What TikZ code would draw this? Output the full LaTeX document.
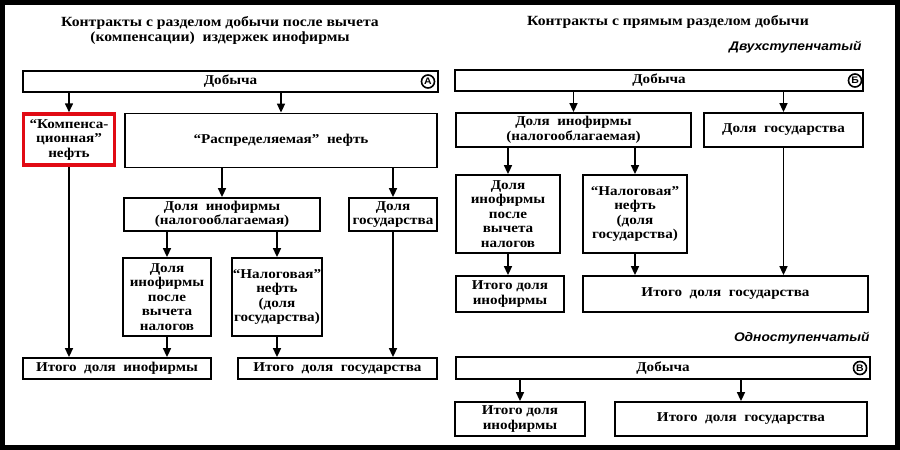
\documentclass[tikz,border=0pt]{standalone}
\usepackage{fontspec}
\setmainfont{Liberation Serif}[FakeStretch=1.12]
\newfontfamily\italsans{Liberation Sans}[FakeStretch=1.1]
\usetikzlibrary{arrows.meta,positioning,calc}
\definecolor{myred}{RGB}{225,10,20}

\begin{document}
\begin{tikzpicture}[
  x=1pt, y=-1pt,
  mybox/.style={
    draw,
    line width=1.8pt,
    inner sep=1pt,
    align=center,
    font=\bfseries\fontsize{13.5}{14.5}\selectfont
    },
  myarr/.style={
    line width=1.6pt,
    -{Triangle[length=9pt,width=8pt]}
    },
  mymark/.style={
    draw,
    circle,
    line width=1.6pt,
    inner sep=0pt,
    minimum size=13pt,
    font=\italsans\bfseries\fontsize{9.5}{9.5}\selectfont
    },
  mytitle/.style={align=center, font=\bfseries\fontsize{14}{15}\selectfont},
  mykind/.style={anchor=east, font=\italsans\bfseries\itshape\fontsize{12.5}{12.5}\selectfont}
]
\useasboundingbox (0,0) rectangle (900,450);
\fill[black] (0,0) rectangle (900,450);
\fill[white] (5,5) rectangle (895,445);

% left: contracts with cost recovery
\node[mytitle] (titleA) at (220,30) {Контракты с разделом добычи после вычета\\(компенсации)\ \ издержек инофирмы};

\node[mybox, minimum width=415pt, minimum height=21pt] (dobA) at (230.5,81.5) {Добыча};
\node[mymark] (markA) at (428,81.5) {А};
\node[mybox, draw=myred, line width=3.5pt, minimum width=91pt, minimum height=51pt] (komp) at (69,139.5) {“Компенса-\\ционная”\\нефть};
\node[mybox, minimum width=312pt, minimum height=54pt] (rasp) at (281,140.5) {“Распределяемая”\ \ нефть};
\node[mybox, minimum width=196pt, minimum height=33pt] (dinA) at (222,214.5) {Доля\ \ инофирмы\\(налогооблагаемая)};
\node[mybox, minimum width=88pt, minimum height=33pt] (dgosA) at (393,214.5) {Доля\\государства};
\node[mybox, minimum width=88pt, minimum height=78pt] (posleA) at (167,297) {Доля\\инофирмы\\после\\вычета\\налогов};
\node[mybox, minimum width=84pt, minimum height=78pt] (nalA) at (277,297) {“Налоговая”\\нефть\\(доля\\государства)};
\node[mybox, minimum width=188pt, minimum height=21pt] (itinA) at (117,368.5) {Итого\ \ доля\ \ инофирмы};
\node[mybox, minimum width=199pt, minimum height=21pt] (itgosA) at (337.5,368.5) {Итого\ \ доля\ \ государства};

% right: direct production sharing
\node[mytitle] (titleB) at (668,22) {Контракты с прямым разделом добычи};
\node[mykind] (twostep) at (865,47) {Двухступенчатый};

\node[mybox, minimum width=408pt, minimum height=21pt] (dobB) at (659,80.5) {Добыча};
\node[mymark] (markB) at (855,80.5) {Б};
\node[mybox, minimum width=235pt, minimum height=34pt] (dinB) at (573.5,130) {Доля\ \ инофирмы\\(налогооблагаемая)};
\node[mybox, minimum width=159pt, minimum height=34pt] (dgosB) at (783.5,130) {Доля\ \ государства};
\node[mybox, minimum width=104pt, minimum height=78pt] (posleB) at (508,214) {Доля\\инофирмы\\после\\вычета\\налогов};
\node[mybox, minimum width=104pt, minimum height=78pt] (nalB) at (635,214) {“Налоговая”\\нефть\\(доля\\государства)};
\node[mybox, minimum width=108pt, minimum height=36pt] (itinB) at (510,294) {Итого доля\\инофирмы};
\node[mybox, minimum width=285pt, minimum height=36pt] (itgosB) at (725.5,294) {Итого\ \ доля\ \ государства};

\node[mykind] (onestep) at (873,338) {Одноступенчатый};

\node[mybox, minimum width=414pt, minimum height=22pt] (dobC) at (663,368) {Добыча};
\node[mymark] (markC) at (860,368) {В};
\node[mybox, minimum width=130pt, minimum height=34pt] (itinC) at (520,419) {Итого доля\\инофирмы};
\node[mybox, minimum width=252pt, minimum height=34pt] (itgosC) at (741,419) {Итого\ \ доля\ \ государства};

% arrows
\foreach \s/\t in {dobA/komp, dobA/rasp, rasp/dinA, rasp/dgosA, dinA/posleA, dinA/nalA,
                   dobB/dinB, dobB/dgosB, dinB/posleB, dinB/nalB, dobC/itinC, dobC/itgosC}
  \draw[myarr] (\s.south -| \t.north) -- (\t.north);
\foreach \s/\t in {komp/itinA, posleA/itinA, nalA/itgosA, dgosA/itgosA,
                   posleB/itinB, nalB/itgosB, dgosB/itgosB}
  \draw[myarr] (\s.south) -- (\s.south |- \t.north);
\end{tikzpicture}
\end{document}
